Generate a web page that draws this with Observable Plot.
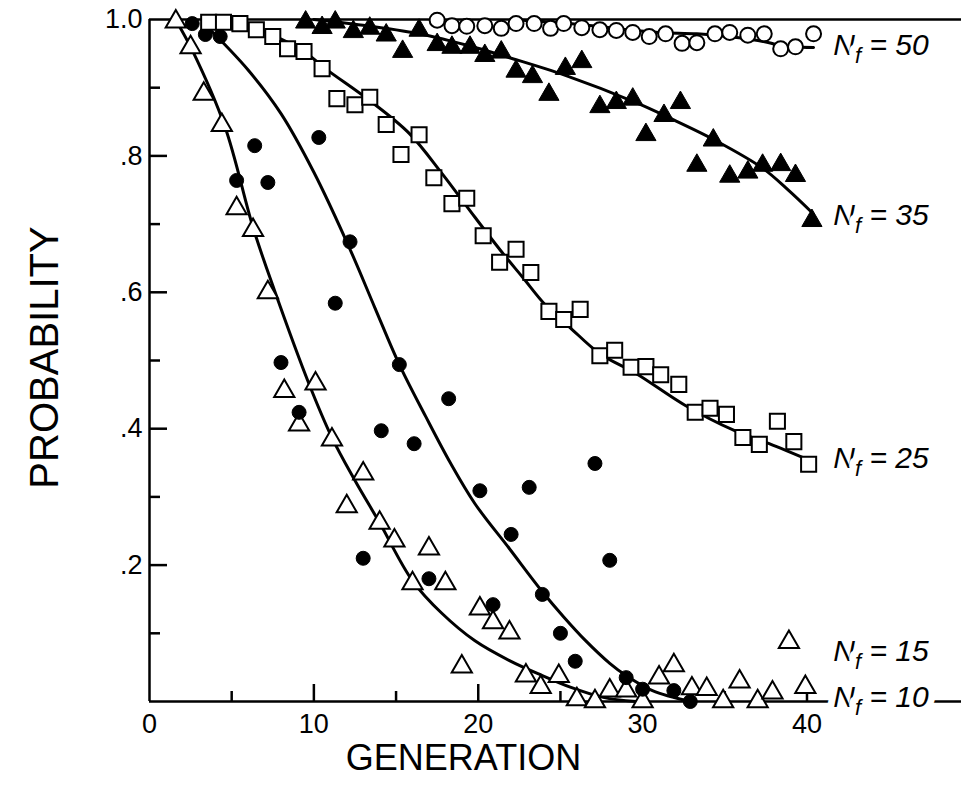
<!DOCTYPE html>
<html>
<head>
<meta charset="utf-8">
<script src="https://cdn.jsdelivr.net/npm/d3@7"></script>
<script src="https://cdn.jsdelivr.net/npm/@observablehq/plot@0.6"></script>
<style>
html, body { margin: 0; padding: 0; background: #fff; }
#chart svg { display: block; }
</style>
</head>
<body>
<div id="chart"></div>
<script>
// ---- data: [generation, probability] ----
const nf10Points = [[1.6,0.997],[2.5,0.959],[3.3,0.891],[4.4,0.845],[5.3,0.723],[6.3,0.691],[7.2,0.600],[8.2,0.455],[9.1,0.406],[10.1,0.466],[11.1,0.384],[12.0,0.286],[13.0,0.334],[14.0,0.262],[14.9,0.236],[16.0,0.173],[17.0,0.224],[18.0,0.173],[19.0,0.051],[20.1,0.136],[20.9,0.116],[21.9,0.101],[22.9,0.038],[23.8,0.021],[24.9,0.037],[26.0,0.003],[27.1,0.0],[28.0,0.016],[29.0,0.016],[30.0,0.0],[31.0,0.035],[31.9,0.053],[33.0,0.019],[33.9,0.018],[34.9,0.0],[35.9,0.029],[37.0,0.0],[37.9,0.013],[38.9,0.087],[39.9,0.021]];
const nf15Points = [[2.6,0.994],[3.4,0.978],[4.3,0.975],[5.3,0.764],[6.4,0.815],[7.2,0.761],[8.0,0.497],[9.1,0.424],[10.3,0.827],[11.3,0.584],[12.2,0.674],[13.0,0.210],[14.1,0.397],[15.2,0.494],[16.1,0.378],[17.0,0.180],[18.2,0.444],[20.1,0.309],[20.9,0.142],[22.0,0.245],[23.1,0.314],[23.9,0.157],[25.0,0.100],[25.9,0.059],[27.1,0.349],[28.0,0.207],[29.0,0.035],[30.0,0.018],[31.9,0.016],[32.9,0.0]];
const nf25Points = [[3.6,0.996],[4.5,0.996],[5.5,0.994],[6.5,0.985],[7.5,0.975],[8.4,0.957],[9.4,0.953],[10.5,0.928],[11.4,0.884],[12.5,0.875],[13.4,0.886],[14.4,0.846],[15.3,0.802],[16.4,0.831],[17.3,0.768],[18.4,0.730],[19.3,0.738],[20.3,0.683],[21.3,0.644],[22.3,0.663],[23.2,0.629],[24.3,0.572],[25.2,0.560],[26.2,0.575],[27.4,0.507],[28.3,0.515],[29.3,0.490],[30.2,0.491],[31.1,0.479],[32.2,0.465],[33.2,0.424],[34.1,0.430],[35.1,0.421],[36.1,0.387],[37.1,0.377],[38.2,0.411],[39.2,0.381],[40.1,0.348]];
const nf35Points = [[9.5,0.996],[10.5,0.988],[11.3,0.996],[12.4,0.982],[13.4,0.987],[14.4,0.977],[15.4,0.953],[16.4,0.984],[17.5,0.963],[18.4,0.959],[19.5,0.959],[20.4,0.947],[21.4,0.952],[22.3,0.924],[23.3,0.916],[24.3,0.890],[25.3,0.928],[26.3,0.938],[27.4,0.872],[28.4,0.878],[29.4,0.883],[30.2,0.831],[31.3,0.859],[32.3,0.878],[33.3,0.786],[34.3,0.823],[35.3,0.770],[36.4,0.776],[37.3,0.786],[38.4,0.787],[39.3,0.771],[40.3,0.705]];
const nf50Points = [[17.5,0.999],[18.4,0.991],[19.3,0.990],[20.4,0.991],[21.4,0.987],[22.3,0.994],[23.4,0.994],[24.4,0.987],[25.2,0.994],[26.3,0.988],[27.4,0.985],[28.4,0.984],[29.4,0.981],[30.4,0.975],[31.4,0.979],[32.4,0.965],[33.3,0.966],[34.4,0.979],[35.3,0.981],[36.4,0.977],[37.4,0.979],[38.4,0.957],[39.3,0.960],[40.4,0.979]];

// fitted curves
const nf10Curve = [[1.7,0.995],[2.6,0.955],[4.6,0.842],[6.3,0.695],[7.6,0.603],[9.7,0.466],[11.1,0.387],[12.5,0.324],[14.0,0.262],[16.0,0.177],[17.8,0.129],[19.8,0.089],[21.9,0.060],[23.9,0.038],[25.6,0.021],[27.6,0.006],[29.6,0.0]];
const nf15Curve = [[3.7,0.985],[6.0,0.926],[8.0,0.862],[10.0,0.776],[12.2,0.663],[13.7,0.578],[15.2,0.494],[16.8,0.418],[18.3,0.350],[19.8,0.290],[21.9,0.224],[23.9,0.161],[25.2,0.124],[26.5,0.090],[28.0,0.056],[29.0,0.038],[30.6,0.016],[32.9,0.0]];
const nf25Curve = [[4.5,1.0],[5.7,0.994],[7.5,0.977],[9.3,0.955],[10.7,0.928],[13.4,0.881],[15.8,0.833],[17.8,0.774],[19.8,0.710],[21.5,0.657],[22.7,0.622],[24.1,0.581],[25.6,0.548],[27.4,0.510],[29.6,0.481],[32.6,0.434],[35.6,0.397],[37.7,0.378],[40.2,0.353]];
const nf35Curve = [[10.0,1.0],[12.5,0.993],[16.4,0.979],[19.8,0.959],[21.9,0.944],[25.3,0.918],[29.6,0.878],[31.6,0.856],[34.4,0.823],[37.3,0.782],[38.9,0.749],[40.3,0.717]];
const nf50Curve = [[22.0,1.0],[26.0,0.993],[28.3,0.987],[31.0,0.981],[33.3,0.979],[35.6,0.974],[37.7,0.966],[38.3,0.962],[40.4,0.959]];

// labels
const nfValues = ["50", "35", "25", "15", "10"];
const nfLabelY = [0.962, 0.713, 0.356, 0.073, 0.006];
const nfLabelX = 41.6;

// ticks
const xLabelTicks = [0, 10, 20, 30, 40];
const xTickLabels = ["0", "10", "20", "30", "40"];
const xMajorTicks = [10, 20, 30, 40];
const xMinorTicks = [5, 15, 25, 35];
const yLabelTicks = [1.0, 0.8, 0.6, 0.4, 0.2];
const yTickLabels = ["1.0", ".8", ".6", ".4", ".2"];
const yMajorTicks = [0.2, 0.4, 0.6, 0.8];
const yMinorTicks = [0.1, 0.3, 0.5, 0.7, 0.9];

const xTitle = "GENERATION";
const yTitle = "PROBABILITY";

// ---- layout ----
const W = 961, H = 790;
const M = {left: 149, right: 0, top: 19, bottom: 89};
const xDomain = [0, 49.4], yDomain = [0, 1];
const pxPerX = (W - M.left - M.right) / (xDomain[1] - xDomain[0]);
const pxPerY = (H - M.top - M.bottom) / (yDomain[1] - yDomain[0]);

// ---- build tables ----
const toRows = (pts, s) => pts.map(([g, p]) => ({g, p, s}));
const curves = [
  ...toRows(nf10Curve, "10"), ...toRows(nf15Curve, "15"), ...toRows(nf25Curve, "25"),
  ...toRows(nf35Curve, "35"), ...toRows(nf50Curve, "50")
];
const labels = nfValues.map((v, i) => ({v, p: nfLabelY[i], g: nfLabelX}));

const font = "'Liberation Sans', Arial, Helvetica, sans-serif";

const chart = Plot.plot({
  width: W,
  height: H,
  marginLeft: M.left,
  marginRight: M.right,
  marginTop: M.top,
  marginBottom: M.bottom,
  x: {domain: xDomain, label: null, axis: null},
  y: {domain: yDomain, label: null, axis: null},
  style: {background: "white", color: "black", fontFamily: font},
  marks: [
    // axes frame lines
    Plot.ruleY([0, 1], {stroke: "black", strokeWidth: 2.5}),
    Plot.ruleX([0], {y1: 0, y2: 1, stroke: "black", strokeWidth: 2.5}),
    // inward ticks (lengths given in pixels)
    Plot.ruleX(xMajorTicks, {x: d => d, y1: 0, y2: 17 / pxPerY, stroke: "black", strokeWidth: 2.5}),
    Plot.ruleX(xMinorTicks, {x: d => d, y1: 0, y2: 10 / pxPerY, stroke: "black", strokeWidth: 2.5}),
    Plot.ruleY(yMajorTicks, {y: d => d, x1: 0, x2: 18 / pxPerX, stroke: "black", strokeWidth: 2.5}),
    Plot.ruleY(yMinorTicks, {y: d => d, x1: 0, x2: 11 / pxPerX, stroke: "black", strokeWidth: 2.5}),
    // tick labels
    Plot.text(xLabelTicks, {x: d => d, frameAnchor: "bottom", lineAnchor: "middle", dy: 23,
      text: d => xTickLabels[xLabelTicks.indexOf(d)], fontSize: 27}),
    Plot.text(yLabelTicks, {y: d => d, frameAnchor: "left", textAnchor: "end", lineAnchor: "middle", dx: -7,
      text: d => yTickLabels[yLabelTicks.indexOf(d)], fontSize: 27}),
    // titles
    Plot.text([yTitle], {text: d => d, frameAnchor: "left", textAnchor: "middle", lineAnchor: "middle",
      rotate: -90, dx: -104, dy: -3, fontSize: 40}),
    Plot.text([xTitle], {text: d => d, frameAnchor: "bottom", textAnchor: "middle", lineAnchor: "middle",
      dx: -92, dy: 57, fontSize: 36}),
    // fitted curves
    Plot.line(curves, {x: "g", y: "p", z: "s", curve: "catmull-rom", stroke: "black", strokeWidth: 3}),
    // data points
    Plot.dot(toRows(nf10Points, "10"), {x: "g", y: "p", symbol: "triangle", r: 7.5, fill: "white", stroke: "black", strokeWidth: 2}),
    Plot.dot(toRows(nf15Points, "15"), {x: "g", y: "p", symbol: "circle", r: 7, fill: "black", stroke: "black", strokeWidth: 1}),
    Plot.dot(toRows(nf25Points, "25"), {x: "g", y: "p", symbol: "square", r: 8.5, fill: "white", stroke: "black", strokeWidth: 2}),
    Plot.dot(toRows(nf35Points, "35"), {x: "g", y: "p", symbol: "triangle", r: 7.5, fill: "black", stroke: "black", strokeWidth: 1}),
    Plot.dot(toRows(nf50Points, "50"), {x: "g", y: "p", symbol: "circle", r: 7.5, fill: "white", stroke: "black", strokeWidth: 2}),
    // series labels
    Plot.text(labels, {x: "g", y: "p", text: d => `N_f = ${d.v}`, textAnchor: "start", lineAnchor: "middle", fontSize: 30,
      fontStyle: "italic", fill: "black", stroke: "white", strokeWidth: 14})
  ]
});

document.getElementById("chart").appendChild(chart);

// subscript "f" in the N_f labels
const ns = "http://www.w3.org/2000/svg";
chart.querySelectorAll("text").forEach(t => {
  const s = t.textContent;
  if (!s.startsWith("N_f = ")) return;
  const rest = s.slice(3);
  t.textContent = "";
  const a = document.createElementNS(ns, "tspan"); a.textContent = "N";
  const b = document.createElementNS(ns, "tspan"); b.textContent = "f";
  b.setAttribute("dy", "8"); b.setAttribute("font-size", "22");
  const c = document.createElementNS(ns, "tspan"); c.textContent = rest;
  c.setAttribute("dy", "-8");
  t.append(a, b, c);
});
</script>
</body>
</html>
